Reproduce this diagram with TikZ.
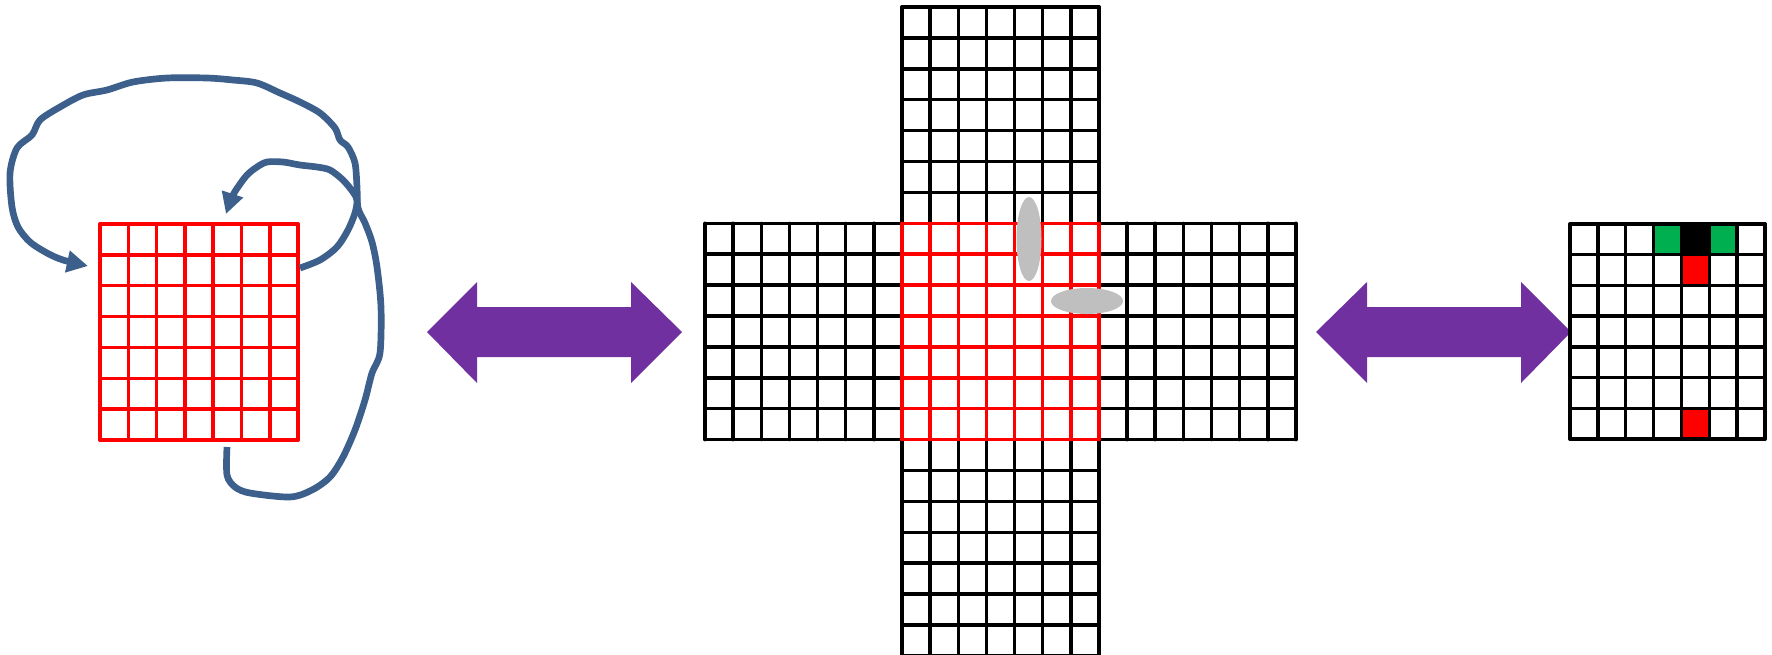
\documentclass[tikz,border=0pt]{standalone}
\usetikzlibrary{arrows.meta}
\definecolor{gridred}{RGB}{255,0,0}
\definecolor{arrowpurple}{RGB}{112,48,160}
\definecolor{curveblue}{RGB}{60,95,140}
\definecolor{cellgreen}{RGB}{0,176,80}
\definecolor{shadegray}{RGB}{191,191,191}
\begin{document}
\begin{tikzpicture}[x=0.01cm,y=-0.01cm,
  blackline/.style={line width=1pt,line cap=round,draw=black},
  redline/.style={line width=1pt,line cap=round,draw=gridred},
  bigarrow/.style={fill=arrowpurple,draw=none},
  loopcurve/.style={draw=curveblue,line width=1.9pt,line cap=butt,line join=round,
    -{Triangle[length=6pt,width=6pt]}},
  shade/.style={fill=shadegray,draw=none}]
\useasboundingbox (0,0) rectangle (1772,654);
\clip (0,0) rectangle (1772,654);

% ---------- left red grid ----------
\foreach \i in {0,...,7} {
  \draw[redline] ({100+\i*28.29},224) -- ({100+\i*28.29},440);
  \draw[redline] (100,{224+\i*30.86}) -- (298,{224+\i*30.86});
}

% ---------- blue loop curves ----------
\coordinate (outerstart) at (227,447);
\coordinate (outerend) at (88,266);
\coordinate (innerstart) at (300,268);
\coordinate (innerend) at (226,214);
\draw[loopcurve] plot[smooth,tension=0.5] coordinates {
  (outerstart) (227,475) (235,487) (250,493) (290,497) (312,490) (330,477)
  (343,457) (355,430) (365,400) (372,373) (380,353) (381,307) (377,267)
  (372,242) (365,223) (358,208) (357,187) (355,163) (348,147) (340,140)
  (335,128) (320,113) (300,102) (280,93) (257,83) (233,80) (207,78)
  (167,78) (133,82) (107,90) (83,95) (60,107) (40,120) (32,135) (17,148)
  (10,173) (12,207) (18,227) (30,242) (47,253) (63,260) (outerend)};
\draw[loopcurve] plot[smooth,tension=0.5] coordinates {
  (innerstart) (320,260) (337,247) (348,230) (355,213) (357,200) (353,192)
  (343,180) (330,170) (317,167) (300,165) (283,162) (267,162) (257,167)
  (247,175) (238,187) (232,197) (innerend)};

% ---------- purple double arrows ----------
\fill[bigarrow] (427,332) -- (477,282) -- (477,307) -- (631,307) -- (631,282)
  -- (682,332) -- (631,383) -- (631,357) -- (477,357) -- (477,383) -- cycle;
\fill[bigarrow] (1316,332) -- (1367,282) -- (1367,307) -- (1521,307) -- (1521,282)
  -- (1571,332) -- (1521,383) -- (1521,357) -- (1367,357) -- (1367,383) -- cycle;

% ---------- central cross ----------
% vertical arm
\foreach \i in {0,...,7}
  \draw[blackline] ({902+\i*28.14},7) -- ({902+\i*28.14},656);
\foreach \k in {0,...,21}
  \draw[blackline] (902,{7+\k*30.9}) -- (1099,{7+\k*30.9});
% horizontal arm
\foreach \j in {0,...,21}
  \draw[blackline] ({705+\j*28.14},223.3) -- ({705+\j*28.14},439.6);
\foreach \k in {0,...,7}
  \draw[blackline] (705,{223.3+\k*30.9}) -- (1296,{223.3+\k*30.9});
% red centre
\foreach \i in {0,...,7} {
  \draw[redline] ({902+\i*28.14},223.3) -- ({902+\i*28.14},439.6);
  \draw[redline] (902,{223.3+\i*30.9}) -- (1099,{223.3+\i*30.9});
}
% gray shading
\fill[shade] (1029,239) ellipse [x radius=12.5,y radius=42];
\fill[shade] (1087,301) ellipse [x radius=36,y radius=13];

% ---------- right grid ----------
\fill[cellgreen] (1653.6,224) rectangle (1681.4,254.7);
\fill[black] (1681.4,224) rectangle (1709.3,254.7);
\fill[cellgreen] (1709.3,224) rectangle (1737.1,254.7);
\fill[gridred] (1681.4,254.7) rectangle (1709.3,285.4);
\fill[gridred] (1681.4,408.3) rectangle (1709.3,439);
\foreach \i in {0,...,7} {
  \draw[blackline] ({1570+\i*27.86},224) -- ({1570+\i*27.86},439);
  \draw[blackline] (1570,{224+\i*30.71}) -- (1765,{224+\i*30.71});
}
\end{tikzpicture}
\end{document}
